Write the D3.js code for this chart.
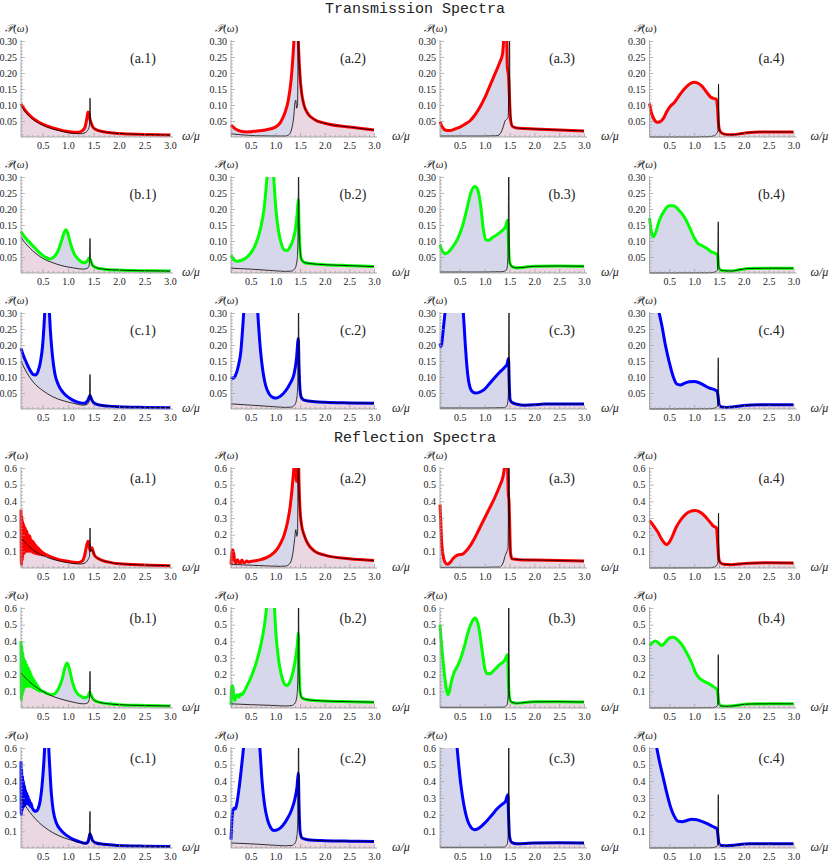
<!DOCTYPE html>
<html><head><meta charset="utf-8">
<script src="https://cdn.jsdelivr.net/npm/d3@7"></script>
<style>body{margin:0;background:#fff} svg{display:block} .serif text, text.serif{font-family:"Liberation Serif","Times New Roman",serif !important}</style>
</head><body><svg id="c" width="830" height="864"></svg>
<script>
// ---------------- DATA ----------------
const titles = ["Transmission Spectra", "Reflection Spectra"];
const rowLetters = ["a", "b", "c"];
const rowColors = ["#ff0000", "#00ff00", "#0000ff"];
const xTicks = [0.5, 1.0, 1.5, 2.0, 2.5, 3.0];
const yTicksT = [0.05, 0.10, 0.15, 0.20, 0.25, 0.30];
const yTicksR = [0.1, 0.2, 0.3, 0.4, 0.5, 0.6];
const yMaxT = 0.30, yMaxR = 0.6;

// Transmission, row a
const T_a1_col = [[0.075,0.103],[0.15,0.085],[0.25,0.067],[0.35,0.054],[0.5,0.04],[0.7,0.028],[0.9,0.02],[1.1,0.015],[1.2,0.015],[1.28,0.02],[1.33,0.03],[1.37,0.06],[1.39,0.078],[1.41,0.072],[1.43,0.055],[1.46,0.04],[1.5,0.028],[1.6,0.02],[1.8,0.014],[2.0,0.011],[2.5,0.008],[3.0,0.006]];
const T_a1_blk = [[0.075,0.098],[0.15,0.08],[0.25,0.063],[0.35,0.05],[0.5,0.037],[0.7,0.025],[0.9,0.017],[1.1,0.011],[1.25,0.01],[1.33,0.013],[1.38,0.02],[1.41,0.03],[1.423,0.045],[1.43,0.121],[1.437,0.06],[1.45,0.045],[1.48,0.033],[1.52,0.026],[1.6,0.02],[1.8,0.014],[2.0,0.011],[2.5,0.008],[3.0,0.006]];
const T_a2_col = [[0.1,0.037],[0.2,0.024],[0.3,0.018],[0.42,0.016],[0.6,0.018],[0.8,0.022],[1.0,0.031],[1.1,0.045],[1.18,0.07],[1.26,0.113],[1.32,0.18],[1.36,0.26],[1.39,0.34],[1.42,0.4],[1.45,0.38],[1.47,0.28],[1.5,0.19],[1.53,0.14],[1.58,0.1],[1.65,0.075],[1.8,0.054],[2.0,0.043],[2.5,0.031],[3.0,0.022]];
const T_a2_blk = [[0.1,0.01],[0.3,0.007],[0.6,0.004],[1.0,0.003],[1.2,0.003],[1.28,0.008],[1.33,0.025],[1.37,0.06],[1.4,0.11],[1.415,0.115],[1.43,0.09],[1.45,0.1],[1.465,0.35],[1.475,0.28],[1.5,0.19],[1.53,0.14],[1.58,0.1],[1.65,0.075],[1.8,0.054],[2.0,0.043],[2.5,0.031],[3.0,0.022]];
const T_a3_col = [[0.1,0.048],[0.15,0.03],[0.22,0.021],[0.3,0.02],[0.4,0.025],[0.5,0.031],[0.6,0.04],[0.7,0.05],[0.8,0.068],[0.9,0.092],[1.0,0.122],[1.1,0.158],[1.2,0.195],[1.3,0.232],[1.36,0.26],[1.39,0.32],[1.42,0.36],[1.44,0.33],[1.455,0.22],[1.48,0.19],[1.5,0.12],[1.52,0.055],[1.56,0.033],[1.7,0.027],[2.0,0.025],[2.5,0.022],[3.0,0.019]];
const T_a3_blk = [[0.1,0.003],[0.5,0.003],[1.0,0.003],[1.25,0.004],[1.32,0.012],[1.37,0.03],[1.41,0.05],[1.44,0.055],[1.47,0.06],[1.49,0.2],[1.5,0.35],[1.51,0.1],[1.53,0.055],[1.56,0.033],[1.7,0.027],[2.0,0.025],[2.5,0.022],[3.0,0.019]];
const T_a4_col = [[0.1,0.105],[0.14,0.075],[0.19,0.056],[0.25,0.046],[0.3,0.047],[0.38,0.058],[0.45,0.08],[0.52,0.096],[0.6,0.108],[0.7,0.13],[0.8,0.15],[0.9,0.165],[1.0,0.171],[1.08,0.168],[1.15,0.16],[1.25,0.14],[1.33,0.125],[1.4,0.12],[1.45,0.118],[1.47,0.09],[1.49,0.04],[1.52,0.018],[1.6,0.009],[1.75,0.007],[2.0,0.012],[2.3,0.016],[3.0,0.016]];
const T_a4_blk = [[0.1,0],[1.0,0],[1.3,0.001],[1.4,0.004],[1.45,0.01],[1.48,0.02],[1.49,0.166],[1.5,0.04],[1.52,0.018],[1.6,0.009],[1.75,0.007],[2.0,0.012],[2.3,0.016],[3.0,0.016]];
// Transmission, row b
const T_b1_col = [[0.075,0.13],[0.15,0.112],[0.25,0.095],[0.35,0.078],[0.45,0.062],[0.55,0.05],[0.64,0.044],[0.72,0.05],[0.8,0.068],[0.87,0.1],[0.93,0.13],[0.96,0.135],[1.0,0.12],[1.05,0.09],[1.12,0.06],[1.2,0.043],[1.3,0.032],[1.37,0.036],[1.41,0.047],[1.44,0.04],[1.48,0.024],[1.55,0.017],[1.7,0.012],[2.0,0.009],[2.5,0.007],[3.0,0.006]];
const T_b1_blk = [[0.075,0.112],[0.15,0.095],[0.25,0.078],[0.35,0.063],[0.5,0.046],[0.7,0.032],[0.9,0.022],[1.1,0.016],[1.3,0.012],[1.38,0.015],[1.415,0.025],[1.43,0.108],[1.44,0.045],[1.48,0.024],[1.55,0.017],[1.7,0.012],[2.0,0.009],[2.5,0.007],[3.0,0.006]];
const T_b2_col = [[0.1,0.055],[0.16,0.042],[0.22,0.037],[0.3,0.039],[0.4,0.047],[0.5,0.062],[0.6,0.09],[0.7,0.14],[0.77,0.2],[0.82,0.28],[0.86,0.36],[0.9,0.42],[0.94,0.37],[0.97,0.29],[1.01,0.2],[1.06,0.135],[1.12,0.092],[1.18,0.072],[1.24,0.07],[1.3,0.082],[1.36,0.105],[1.41,0.14],[1.445,0.19],[1.465,0.23],[1.48,0.15],[1.5,0.075],[1.53,0.042],[1.6,0.032],[1.8,0.028],[2.0,0.026],[2.5,0.023],[3.0,0.02]];
const T_b2_blk = [[0.1,0.015],[0.5,0.012],[0.9,0.008],[1.2,0.005],[1.33,0.006],[1.4,0.015],[1.44,0.04],[1.46,0.12],[1.47,0.34],[1.48,0.15],[1.5,0.075],[1.53,0.042],[1.6,0.032],[1.8,0.028],[2.0,0.026],[2.5,0.023],[3.0,0.02]];
const T_b3_col = [[0.1,0.088],[0.15,0.068],[0.2,0.06],[0.27,0.065],[0.35,0.08],[0.45,0.105],[0.55,0.145],[0.65,0.205],[0.72,0.25],[0.8,0.27],[0.86,0.26],[0.92,0.21],[0.97,0.14],[1.02,0.105],[1.08,0.102],[1.15,0.11],[1.25,0.12],[1.35,0.132],[1.42,0.145],[1.46,0.165],[1.48,0.09],[1.5,0.035],[1.55,0.02],[1.65,0.016],[1.8,0.018],[2.0,0.021],[2.5,0.022],[3.0,0.021]];
const T_b3_blk = [[0.1,0.003],[1.0,0.003],[1.35,0.004],[1.44,0.01],[1.47,0.05],[1.485,0.34],[1.5,0.035],[1.55,0.02],[1.65,0.016],[1.8,0.018],[2.0,0.021],[2.5,0.022],[3.0,0.021]];
const T_b4_col = [[0.1,0.172],[0.13,0.135],[0.17,0.113],[0.22,0.125],[0.3,0.165],[0.4,0.195],[0.5,0.21],[0.58,0.21],[0.7,0.195],[0.8,0.175],[0.9,0.145],[1.0,0.11],[1.07,0.093],[1.15,0.086],[1.25,0.077],[1.35,0.066],[1.45,0.059],[1.47,0.055],[1.49,0.02],[1.52,0.01],[1.6,0.007],[1.75,0.006],[1.9,0.01],[2.1,0.014],[2.5,0.015],[3.0,0.015]];
const T_b4_blk = [[0.1,0],[1.3,0.0005],[1.42,0.003],[1.47,0.01],[1.485,0.16],[1.495,0.02],[1.52,0.01],[1.6,0.007],[1.75,0.006],[1.9,0.01],[2.1,0.014],[2.5,0.015],[3.0,0.015]];
// Transmission, row c
const T_c1_col = [[0.075,0.19],[0.12,0.168],[0.18,0.145],[0.25,0.122],[0.31,0.108],[0.36,0.106],[0.41,0.118],[0.46,0.15],[0.5,0.2],[0.53,0.27],[0.56,0.36],[0.59,0.4],[0.62,0.34],[0.65,0.25],[0.69,0.17],[0.74,0.11],[0.81,0.075],[0.9,0.052],[1.0,0.037],[1.1,0.027],[1.22,0.02],[1.32,0.018],[1.39,0.028],[1.43,0.042],[1.46,0.03],[1.5,0.02],[1.6,0.013],[1.8,0.009],[2.0,0.007],[2.5,0.005],[3.0,0.004]];
const T_c1_blk = [[0.075,0.15],[0.15,0.125],[0.25,0.098],[0.35,0.078],[0.5,0.058],[0.7,0.038],[0.9,0.026],[1.1,0.018],[1.3,0.012],[1.38,0.015],[1.415,0.025],[1.43,0.108],[1.44,0.04],[1.47,0.027],[1.5,0.02],[1.6,0.013],[1.8,0.009],[2.0,0.007],[2.5,0.005],[3.0,0.004]];
const T_c2_col = [[0.1,0.1],[0.14,0.096],[0.19,0.105],[0.25,0.135],[0.3,0.18],[0.34,0.26],[0.37,0.33],[0.42,0.42],[0.5,0.48],[0.58,0.42],[0.63,0.33],[0.66,0.26],[0.7,0.18],[0.75,0.115],[0.8,0.075],[0.87,0.048],[0.95,0.036],[1.02,0.034],[1.1,0.04],[1.2,0.055],[1.3,0.08],[1.38,0.11],[1.43,0.16],[1.465,0.22],[1.48,0.13],[1.5,0.06],[1.53,0.035],[1.6,0.027],[1.8,0.023],[2.0,0.021],[2.5,0.019],[3.0,0.018]];
const T_c2_blk = [[0.1,0.016],[0.5,0.012],[0.9,0.008],[1.2,0.005],[1.33,0.006],[1.4,0.015],[1.44,0.04],[1.46,0.12],[1.47,0.34],[1.48,0.13],[1.5,0.06],[1.53,0.035],[1.6,0.027],[1.8,0.023],[2.0,0.021],[2.5,0.019],[3.0,0.018]];
const T_c3_col = [[0.1,0.205],[0.115,0.195],[0.13,0.2],[0.16,0.24],[0.2,0.3],[0.25,0.38],[0.35,0.5],[0.45,0.5],[0.53,0.38],[0.57,0.3],[0.61,0.2],[0.65,0.12],[0.7,0.07],[0.76,0.053],[0.82,0.05],[0.9,0.053],[1.0,0.062],[1.1,0.08],[1.2,0.098],[1.3,0.115],[1.4,0.13],[1.45,0.14],[1.48,0.158],[1.495,0.08],[1.51,0.03],[1.55,0.02],[1.65,0.015],[1.8,0.012],[2.0,0.013],[2.2,0.016],[3.0,0.016]];
const T_c3_blk = [[0.1,0.003],[1.0,0.003],[1.38,0.004],[1.45,0.01],[1.475,0.04],[1.49,0.34],[1.5,0.06],[1.51,0.03],[1.55,0.02],[1.65,0.015],[1.8,0.012],[2.0,0.013],[2.2,0.016],[3.0,0.016]];
const T_c4_col = [[0.1,0.42],[0.2,0.36],[0.28,0.31],[0.35,0.26],[0.42,0.2],[0.5,0.145],[0.58,0.1],[0.65,0.078],[0.72,0.075],[0.8,0.08],[0.9,0.085],[1.0,0.086],[1.1,0.082],[1.2,0.074],[1.3,0.066],[1.4,0.061],[1.46,0.056],[1.48,0.04],[1.5,0.015],[1.53,0.007],[1.65,0.005],[1.8,0.007],[2.0,0.011],[2.3,0.013],[3.0,0.013]];
const T_c4_blk = [[0.1,0],[1.3,0.0005],[1.42,0.003],[1.47,0.01],[1.485,0.16],[1.495,0.02],[1.52,0.008],[1.65,0.005],[1.8,0.007],[2.0,0.011],[2.3,0.013],[3.0,0.013]];

// Reflection, row a
const R_a1_col = [[0.075,0.35],[0.082,0.02],[0.09,0.31],[0.1,0.05],[0.11,0.28],[0.12,0.08],[0.13,0.26],[0.145,0.09],[0.16,0.24],[0.175,0.1],[0.19,0.22],[0.205,0.1],[0.22,0.2],[0.235,0.1],[0.25,0.19],[0.265,0.1],[0.28,0.17],[0.295,0.095],[0.31,0.16],[0.325,0.09],[0.34,0.15],[0.355,0.088],[0.37,0.135],[0.385,0.085],[0.4,0.125],[0.415,0.083],[0.43,0.115],[0.445,0.082],[0.46,0.105],[0.475,0.08],[0.49,0.098],[0.505,0.08],[0.52,0.09],[0.535,0.078],[0.55,0.082],[0.6,0.075],[0.7,0.062],[0.8,0.052],[0.9,0.045],[1.0,0.04],[1.1,0.035],[1.2,0.033],[1.27,0.04],[1.32,0.07],[1.36,0.13],[1.39,0.16],[1.41,0.14],[1.43,0.105],[1.45,0.11],[1.47,0.122],[1.49,0.1],[1.52,0.075],[1.6,0.055],[1.8,0.035],[2.0,0.025],[2.5,0.018],[3.0,0.014]];
const R_a1_blk = [[0.075,0.18],[0.15,0.155],[0.25,0.125],[0.35,0.1],[0.5,0.075],[0.7,0.052],[0.9,0.037],[1.1,0.027],[1.25,0.024],[1.33,0.03],[1.39,0.05],[1.42,0.07],[1.43,0.24],[1.44,0.1],[1.47,0.11],[1.49,0.1],[1.52,0.075],[1.6,0.055],[1.8,0.035],[2.0,0.025],[2.5,0.018],[3.0,0.014]];
const R_a2_col = [[0.1,0.02],[0.115,0.08],[0.135,0.11],[0.155,0.09],[0.175,0.04],[0.2,0.03],[0.23,0.05],[0.26,0.035],[0.29,0.03],[0.32,0.048],[0.35,0.035],[0.38,0.032],[0.42,0.042],[0.46,0.036],[0.5,0.04],[0.6,0.044],[0.7,0.05],[0.8,0.06],[0.9,0.075],[1.0,0.1],[1.1,0.145],[1.18,0.2],[1.25,0.28],[1.3,0.37],[1.34,0.48],[1.37,0.58],[1.39,0.65],[1.41,0.62],[1.43,0.52],[1.45,0.55],[1.465,0.7],[1.48,0.5],[1.5,0.35],[1.53,0.26],[1.58,0.2],[1.65,0.15],[1.8,0.1],[2.0,0.077],[2.5,0.055],[3.0,0.045]];
const R_a2_blk = [[0.1,0.022],[0.4,0.018],[0.8,0.013],[1.1,0.01],[1.22,0.012],[1.3,0.03],[1.35,0.08],[1.39,0.17],[1.415,0.23],[1.435,0.19],[1.45,0.21],[1.465,0.75],[1.48,0.5],[1.5,0.35],[1.53,0.26],[1.58,0.2],[1.65,0.15],[1.8,0.1],[2.0,0.077],[2.5,0.055],[3.0,0.045]];
const R_a3_col = [[0.1,0.38],[0.115,0.28],[0.13,0.17],[0.16,0.08],[0.2,0.035],[0.25,0.022],[0.3,0.032],[0.36,0.055],[0.42,0.072],[0.48,0.08],[0.55,0.082],[0.62,0.1],[0.7,0.13],[0.8,0.18],[0.9,0.24],[1.0,0.3],[1.1,0.36],[1.2,0.42],[1.3,0.49],[1.37,0.55],[1.41,0.62],[1.44,0.66],[1.46,0.6],[1.475,0.45],[1.49,0.4],[1.5,0.3],[1.52,0.09],[1.55,0.055],[1.7,0.05],[2.0,0.048],[2.5,0.045],[3.0,0.042]];
const R_a3_blk = [[0.1,0.004],[1.0,0.004],[1.3,0.006],[1.37,0.03],[1.42,0.08],[1.45,0.1],[1.47,0.12],[1.49,0.7],[1.5,0.3],[1.52,0.09],[1.55,0.055],[1.7,0.05],[2.0,0.048],[2.5,0.045],[3.0,0.042]];
const R_a4_col = [[0.1,0.285],[0.14,0.27],[0.2,0.245],[0.27,0.215],[0.33,0.18],[0.4,0.15],[0.45,0.14],[0.5,0.155],[0.56,0.19],[0.63,0.24],[0.72,0.285],[0.82,0.32],[0.92,0.34],[1.02,0.345],[1.12,0.335],[1.22,0.31],[1.32,0.275],[1.39,0.25],[1.43,0.245],[1.45,0.24],[1.47,0.16],[1.49,0.07],[1.52,0.035],[1.6,0.022],[1.75,0.02],[1.9,0.024],[2.1,0.029],[2.5,0.031],[3.0,0.03]];
const R_a4_blk = [[0.1,0],[1.3,0.001],[1.4,0.006],[1.46,0.02],[1.48,0.04],[1.49,0.33],[1.5,0.06],[1.52,0.035],[1.6,0.022],[1.75,0.02],[1.9,0.024],[2.1,0.029],[2.5,0.031],[3.0,0.03]];
// Reflection, row b
const R_b1_col = [[0.075,0.4],[0.082,0.05],[0.09,0.37],[0.1,0.08],[0.11,0.33],[0.12,0.1],[0.13,0.3],[0.145,0.12],[0.16,0.28],[0.175,0.13],[0.19,0.26],[0.205,0.13],[0.22,0.24],[0.235,0.13],[0.25,0.22],[0.265,0.13],[0.28,0.2],[0.295,0.125],[0.31,0.18],[0.325,0.12],[0.34,0.165],[0.355,0.115],[0.37,0.15],[0.385,0.11],[0.4,0.135],[0.415,0.105],[0.43,0.12],[0.445,0.1],[0.46,0.11],[0.48,0.1],[0.5,0.1],[0.58,0.088],[0.66,0.08],[0.72,0.083],[0.8,0.11],[0.88,0.17],[0.94,0.245],[0.98,0.27],[1.02,0.24],[1.08,0.16],[1.15,0.1],[1.25,0.07],[1.33,0.06],[1.39,0.07],[1.42,0.095],[1.45,0.08],[1.5,0.05],[1.6,0.035],[1.8,0.025],[2.0,0.02],[2.5,0.015],[3.0,0.012]];
const R_b1_blk = [[0.075,0.21],[0.15,0.185],[0.25,0.155],[0.35,0.13],[0.5,0.1],[0.7,0.07],[0.9,0.05],[1.1,0.035],[1.3,0.025],[1.38,0.03],[1.415,0.05],[1.43,0.22],[1.44,0.08],[1.47,0.06],[1.5,0.05],[1.6,0.035],[1.8,0.025],[2.0,0.02],[2.5,0.015],[3.0,0.012]];
const R_b2_col = [[0.1,0.02],[0.11,0.11],[0.125,0.135],[0.14,0.12],[0.16,0.06],[0.18,0.045],[0.2,0.07],[0.23,0.08],[0.26,0.065],[0.29,0.085],[0.32,0.08],[0.36,0.095],[0.42,0.13],[0.5,0.18],[0.6,0.26],[0.7,0.37],[0.78,0.5],[0.83,0.62],[0.9,0.75],[0.97,0.65],[1.01,0.45],[1.06,0.3],[1.12,0.2],[1.18,0.145],[1.23,0.135],[1.3,0.16],[1.36,0.22],[1.41,0.3],[1.445,0.38],[1.465,0.45],[1.48,0.25],[1.5,0.1],[1.54,0.06],[1.65,0.05],[1.8,0.045],[2.0,0.042],[2.5,0.038],[3.0,0.035]];
const R_b2_blk = [[0.1,0.025],[0.5,0.02],[0.9,0.016],[1.2,0.012],[1.33,0.015],[1.4,0.03],[1.44,0.08],[1.46,0.25],[1.47,0.7],[1.48,0.25],[1.5,0.1],[1.54,0.06],[1.65,0.05],[1.8,0.045],[2.0,0.042],[2.5,0.038],[3.0,0.035]];
const R_b3_col = [[0.1,0.5],[0.12,0.42],[0.15,0.32],[0.19,0.2],[0.23,0.11],[0.26,0.08],[0.29,0.1],[0.33,0.16],[0.38,0.21],[0.45,0.25],[0.52,0.3],[0.6,0.38],[0.68,0.47],[0.75,0.52],[0.8,0.54],[0.85,0.52],[0.9,0.45],[0.95,0.34],[1.0,0.24],[1.05,0.205],[1.1,0.205],[1.2,0.23],[1.3,0.26],[1.4,0.285],[1.46,0.32],[1.48,0.15],[1.5,0.06],[1.54,0.035],[1.65,0.028],[1.8,0.033],[2.0,0.037],[2.5,0.038],[3.0,0.036]];
const R_b3_blk = [[0.1,0.004],[1.0,0.004],[1.38,0.005],[1.45,0.02],[1.475,0.08],[1.485,0.7],[1.495,0.1],[1.51,0.05],[1.54,0.035],[1.65,0.028],[1.8,0.033],[2.0,0.037],[2.5,0.038],[3.0,0.036]];
const R_b4_col = [[0.1,0.375],[0.15,0.39],[0.22,0.402],[0.28,0.39],[0.35,0.375],[0.42,0.395],[0.5,0.42],[0.58,0.425],[0.66,0.41],[0.75,0.38],[0.85,0.33],[0.95,0.27],[1.03,0.21],[1.1,0.18],[1.2,0.16],[1.3,0.145],[1.4,0.125],[1.46,0.11],[1.48,0.07],[1.5,0.025],[1.55,0.012],[1.65,0.01],[1.8,0.013],[1.95,0.02],[2.1,0.024],[2.5,0.025],[3.0,0.025]];
const R_b4_blk = [[0.1,0],[1.3,0.001],[1.43,0.005],[1.475,0.02],[1.485,0.32],[1.495,0.03],[1.52,0.015],[1.55,0.012],[1.65,0.01],[1.8,0.013],[1.95,0.02],[2.1,0.024],[2.5,0.025],[3.0,0.025]];
// Reflection, row c
const R_c1_col = [[0.075,0.52],[0.08,0.2],[0.087,0.47],[0.095,0.22],[0.105,0.43],[0.115,0.24],[0.125,0.4],[0.135,0.25],[0.145,0.37],[0.155,0.26],[0.165,0.35],[0.178,0.265],[0.19,0.33],[0.203,0.265],[0.215,0.31],[0.228,0.26],[0.24,0.29],[0.255,0.25],[0.27,0.27],[0.29,0.245],[0.33,0.225],[0.37,0.22],[0.41,0.235],[0.45,0.28],[0.49,0.38],[0.52,0.5],[0.55,0.65],[0.58,0.72],[0.61,0.65],[0.64,0.48],[0.67,0.33],[0.71,0.22],[0.77,0.15],[0.85,0.11],[0.95,0.08],[1.05,0.06],[1.15,0.045],[1.25,0.035],[1.33,0.028],[1.38,0.032],[1.41,0.06],[1.43,0.085],[1.45,0.07],[1.48,0.045],[1.55,0.03],[1.7,0.022],[2.0,0.015],[2.5,0.011],[3.0,0.009]];
const R_c1_blk = [[0.075,0.3],[0.12,0.275],[0.2,0.235],[0.3,0.195],[0.42,0.155],[0.55,0.122],[0.7,0.092],[0.9,0.063],[1.1,0.044],[1.25,0.032],[1.35,0.028],[1.41,0.04],[1.43,0.22],[1.44,0.07],[1.46,0.06],[1.48,0.045],[1.55,0.03],[1.7,0.022],[2.0,0.015],[2.5,0.011],[3.0,0.009]];
const R_c2_col = [[0.1,0.05],[0.115,0.15],[0.13,0.21],[0.15,0.235],[0.17,0.24],[0.19,0.235],[0.22,0.27],[0.26,0.35],[0.3,0.45],[0.34,0.56],[0.38,0.68],[0.45,0.8],[0.55,0.85],[0.64,0.75],[0.69,0.58],[0.73,0.4],[0.78,0.26],[0.84,0.17],[0.9,0.125],[0.97,0.105],[1.05,0.11],[1.15,0.135],[1.25,0.18],[1.33,0.23],[1.4,0.3],[1.44,0.37],[1.465,0.45],[1.48,0.25],[1.5,0.1],[1.54,0.06],[1.65,0.05],[1.8,0.046],[2.0,0.044],[2.5,0.041],[3.0,0.039]];
const R_c2_blk = [[0.1,0.03],[0.5,0.025],[0.9,0.018],[1.2,0.013],[1.33,0.015],[1.4,0.03],[1.44,0.08],[1.46,0.25],[1.47,0.7],[1.48,0.25],[1.5,0.1],[1.54,0.06],[1.65,0.05],[1.8,0.046],[2.0,0.044],[2.5,0.041],[3.0,0.039]];
const R_c3_col = [[0.1,0.9],[0.2,1.0],[0.3,0.95],[0.38,0.8],[0.43,0.65],[0.47,0.52],[0.52,0.38],[0.58,0.26],[0.65,0.17],[0.72,0.125],[0.79,0.11],[0.86,0.115],[0.95,0.135],[1.05,0.165],[1.15,0.2],[1.25,0.235],[1.35,0.262],[1.42,0.28],[1.465,0.32],[1.48,0.2],[1.5,0.07],[1.54,0.035],[1.65,0.025],[1.8,0.027],[2.0,0.03],[2.5,0.031],[3.0,0.03]];
const R_c3_blk = [[0.1,0.004],[1.0,0.004],[1.38,0.005],[1.45,0.02],[1.475,0.08],[1.485,0.7],[1.495,0.1],[1.51,0.05],[1.54,0.035],[1.65,0.025],[1.8,0.027],[2.0,0.03],[2.5,0.031],[3.0,0.03]];
const R_c4_col = [[0.1,0.85],[0.18,0.7],[0.24,0.61],[0.3,0.52],[0.37,0.43],[0.44,0.34],[0.52,0.25],[0.6,0.19],[0.68,0.16],[0.76,0.158],[0.85,0.165],[0.95,0.172],[1.05,0.17],[1.15,0.16],[1.25,0.148],[1.35,0.133],[1.42,0.122],[1.46,0.115],[1.48,0.07],[1.5,0.025],[1.55,0.015],[1.65,0.013],[1.8,0.016],[1.95,0.022],[2.1,0.025],[2.5,0.025],[3.0,0.025]];
const R_c4_blk = [[0.1,0],[1.3,0.001],[1.43,0.005],[1.475,0.02],[1.485,0.32],[1.495,0.03],[1.52,0.015],[1.55,0.015],[1.65,0.013],[1.8,0.016],[1.95,0.022],[2.1,0.025],[2.5,0.025],[3.0,0.025]];

const seriesT = [[T_a1_col,T_a1_blk],[T_a2_col,T_a2_blk],[T_a3_col,T_a3_blk],[T_a4_col,T_a4_blk],
                 [T_b1_col,T_b1_blk],[T_b2_col,T_b2_blk],[T_b3_col,T_b3_blk],[T_b4_col,T_b4_blk],
                 [T_c1_col,T_c1_blk],[T_c2_col,T_c2_blk],[T_c3_col,T_c3_blk],[T_c4_col,T_c4_blk]];
const seriesR = [[R_a1_col,R_a1_blk],[R_a2_col,R_a2_blk],[R_a3_col,R_a3_blk],[R_a4_col,R_a4_blk],
                 [R_b1_col,R_b1_blk],[R_b2_col,R_b2_blk],[R_b3_col,R_b3_blk],[R_b4_col,R_b4_blk],
                 [R_c1_col,R_c1_blk],[R_c2_col,R_c2_blk],[R_c3_col,R_c3_blk],[R_c4_col,R_c4_blk]];

// ---------------- LAYOUT ----------------
const colAxisX = [21, 231, 440, 649.5];
const colStart = [0.075, 0.1, 0.1, 0.1];
const colWidth = [149, 143, 144, 144];
const sections = [
  {title: titles[0], titleY: 13, tops: [41, 177, 313], h: 96, ymax: yMaxT, yTicks: yTicksT, minorStep: 0.01, fmt: d3.format(".2f"), labDy: 22, series: seriesT},
  {title: titles[1], titleY: 442, tops: [468, 608, 748], h: 100, ymax: yMaxR, yTicks: yTicksR, minorStep: 0.02, fmt: d3.format(".1f"), labDy: 15, series: seriesR}
];
const FILL_COL = "rgb(214,215,234)";
const FILL_BLK = "rgb(234,215,226)";
const AXIS_COL = "#9a9a9a";
const SERIF = '"Liberation Serif","Times New Roman",serif';

const svg = d3.select("#c");
let clipId = 0;

sections.forEach(sec => {
  svg.append("text").attr("x", 415).attr("y", sec.titleY)
    .attr("text-anchor", "middle").style("font-family", '"Liberation Mono","DejaVu Sans Mono",monospace')
    .style("font-size", "15px").attr("fill", "#222").text(sec.title);

  sec.tops.forEach((top, r) => {
    for (let c = 0; c < 4; c++) {
      const [colData, blkData] = sec.series[r * 4 + c];
      const ax = colAxisX[c];
      const x = d3.scaleLinear().domain([colStart[c], 3.0]).range([ax, ax + colWidth[c]]);
      const y = d3.scaleLinear().domain([0, sec.ymax]).range([top + sec.h, top]);
      const base = y(0);
      const g = svg.append("g").attr("class", "serif");

      const cid = "clip" + (clipId++);
      svg.append("clipPath").attr("id", cid).append("rect")
        .attr("x", ax - 2).attr("y", top).attr("width", colWidth[c] + 6).attr("height", sec.h + 3);
      const pg = g.append("g").attr("clip-path", `url(#${cid})`);

      const area = d3.area().x(d => x(d[0])).y0(base).y1(d => y(d[1])).curve(d3.curveMonotoneX);
      const line = d3.line().x(d => x(d[0])).y(d => y(d[1])).curve(d3.curveMonotoneX);

      pg.append("path").datum(colData).attr("d", area).attr("fill", FILL_COL);
      pg.append("path").datum(blkData).attr("d", area).attr("fill", FILL_BLK);
      pg.append("path").datum(colData).attr("d", line).attr("fill", "none")
        .attr("stroke", rowColors[r]).attr("stroke-width", 3).attr("stroke-linejoin", "round");
      pg.append("path").datum(blkData).attr("d", line).attr("fill", "none")
        .attr("stroke", "#000").attr("stroke-width", 0.8);

      // axes
      const minorY = d3.range(sec.minorStep, sec.ymax + 1e-9, sec.minorStep)
        .filter(v => !sec.yTicks.some(t => Math.abs(t - v) < 1e-6));
      const minorX = d3.range(0.1, 3.0001, 0.1).filter(v => v >= colStart[c]).filter(v => !xTicks.some(t => Math.abs(t - v) < 1e-6));

      const yAxis = g.append("g").attr("transform", `translate(${ax},0)`)
        .call(d3.axisLeft(y).tickValues(sec.yTicks).tickFormat(sec.fmt).tickSizeInner(-4).tickSizeOuter(0).tickPadding(4));
      const yMinor = g.append("g").attr("transform", `translate(${ax},0)`)
        .call(d3.axisLeft(y).tickValues(minorY).tickFormat("").tickSizeInner(-2).tickSizeOuter(0));
      const xAxis = g.append("g").attr("transform", `translate(0,${base})`)
        .call(d3.axisBottom(x).tickValues(xTicks).tickFormat(d3.format(".1f")).tickSizeInner(-4).tickSizeOuter(0).tickPadding(5));
      const xMinor = g.append("g").attr("transform", `translate(0,${base})`)
        .call(d3.axisBottom(x).tickValues(minorX).tickFormat("").tickSizeInner(-2).tickSizeOuter(0));
      [yAxis, yMinor, xAxis, xMinor].forEach(a => {
        a.attr("font-family", null);
        a.select(".domain").remove();
        a.selectAll("line").attr("stroke", AXIS_COL).attr("stroke-width", 0.7);
        a.selectAll("text").style("font-family", SERIF).style("font-size", "10px").attr("fill", "#222");
      });
      g.append("line").attr("x1", ax).attr("x2", ax).attr("y1", base).attr("y2", top - 1)
        .attr("stroke", AXIS_COL).attr("stroke-width", 0.8);
      g.append("line").attr("x1", ax).attr("x2", x(3.0) + 3).attr("y1", base).attr("y2", base)
        .attr("stroke", AXIS_COL).attr("stroke-width", 0.8);

      // labels
      g.append("text").attr("x", ax - 16).attr("y", top - 9)
        .style("font-family", SERIF).style("font-size", "11px").attr("fill", "#222")
        .html('<tspan font-style="italic">𝒫</tspan>(<tspan font-style="italic">ω</tspan>)');
      g.append("text").attr("x", ax + 161).attr("y", base + 3)
        .style("font-family", SERIF).style("font-size", "12px").attr("font-style", "italic").attr("fill", "#222")
        .text("ω/μ");
      g.append("text").attr("x", ax + 122).attr("y", top + sec.labDy)
        .attr("text-anchor", "middle").style("font-family", SERIF).style("font-size", "14px").attr("fill", "#222")
        .text(`(${rowLetters[r]}.${c + 1})`);
    }
  });
});
</script></body></html>
